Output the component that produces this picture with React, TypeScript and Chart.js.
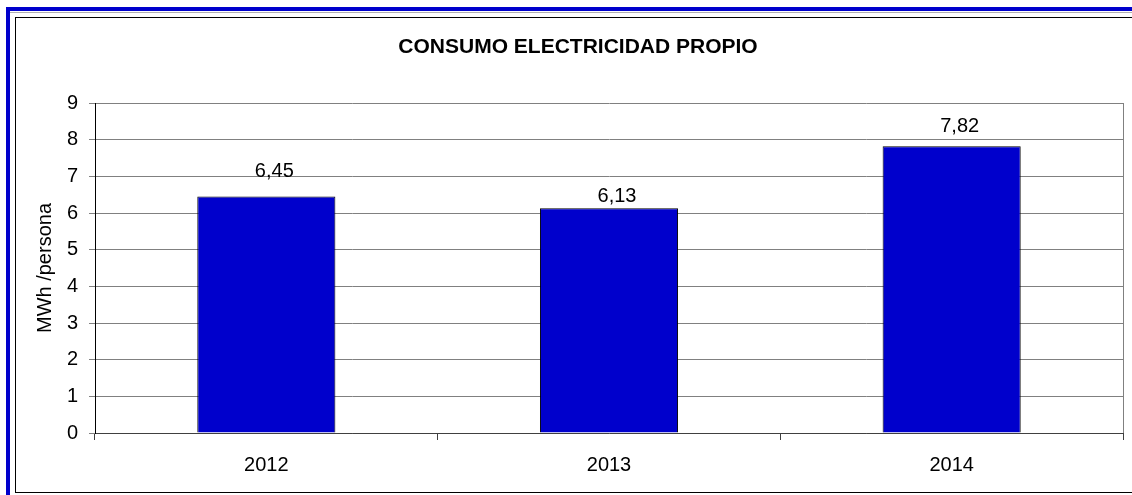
import { useEffect, useRef } from "react";
import { Chart, registerables } from "chart.js";

Chart.register(...registerables);

const categories = ["2012", "2013", "2014"];
const consumo = [6.45, 6.13, 7.82];
const yMin = 0;
const yMax = 9;
const yStep = 1;
const chartTitle = "CONSUMO ELECTRICIDAD PROPIO";
const yAxisTitle = "MWh /persona";

const FONT = '"Liberation Sans", Arial, sans-serif';

const fmt = (v: number) => v.toFixed(2).replace(".", ",");

const valueLabels = {
  id: "valueLabels",
  afterDatasetsDraw(chart: any, _args: any, opts: any) {
    const { ctx } = chart;
    const meta = chart.getDatasetMeta(0);
    ctx.save();
    ctx.font = `20px ${FONT}`;
    ctx.fillStyle = "#000";
    ctx.textAlign = "center";
    ctx.textBaseline = "alphabetic";
    meta.data.forEach((bar: any, i: number) => {
      const v = chart.data.datasets[0].data[i] as number;
      const lift = (opts.lift && opts.lift[i]) ?? 10;
      ctx.fillText(fmt(v), bar.x + (opts.dx ?? 0), bar.y - lift);
    });
    ctx.restore();
  },
};

export default function App() {
  const ref = useRef<HTMLCanvasElement | null>(null);

  useEffect(() => {
    if (!ref.current) return;
    const chart = new Chart(ref.current, {
      type: "bar",
      data: {
        labels: categories,
        datasets: [
          {
            data: consumo,
            backgroundColor: "#0000CC",
            borderColor: "#000000",
            borderWidth: 1,
            categoryPercentage: 1,
            barPercentage: 0.403,
          },
        ],
      },
      options: {
        animation: false,
        responsive: false,
        devicePixelRatio: 1,
        layout: { padding: { left: 33, right: 9, top: 0, bottom: 0 } },
        plugins: {
          legend: { display: false },
          tooltip: { enabled: false },
          title: {
            display: true,
            text: chartTitle,
            color: "#000",
            font: { family: FONT, size: 21, weight: "bold", lineHeight: 1.2 },
            padding: { top: 35, bottom: 42.8 },
          },
          valueLabels: { dx: 8, lift: [19.5, 6, 14] },
        } as any,
        scales: {
          x: {
            offset: true,
            afterFit: (s: any) => {
              s.height = 62;
            },
            grid: {
              offset: true,
              drawOnChartArea: true,
              drawTicks: true,
              tickLength: 7,
              color: (c: any) => (c.tick ? "rgba(0,0,0,0)" : "#808080"),
              tickColor: "#404040",
            },
            border: { display: true, color: "#404040", width: 1 },
            ticks: {
              color: "#000",
              padding: 13,
              font: { family: FONT, size: 20 },
            },
          },
          y: {
            min: yMin,
            max: yMax,
            afterFit: (s: any) => {
              s.width = 62;
            },
            grid: {
              color: "#808080",
              tickColor: "#808080",
              tickLength: 6,
              drawTicks: true,
            },
            border: { display: true, color: "#000", width: 1 },
            ticks: {
              stepSize: yStep,
              color: "#000",
              padding: 11,
              font: { family: FONT, size: 20 },
            },
            title: {
              display: true,
              text: yAxisTitle,
              color: "#000",
              padding: { top: 0, bottom: 0 },
              font: { family: FONT, size: 20 },
            },
          },
        },
      },
      plugins: [valueLabels as any],
    });
    return () => chart.destroy();
  }, []);

  return (
    <div
      style={{
        position: "absolute",
        left: 0,
        top: 0,
        width: 1132,
        height: 495,
        overflow: "hidden",
        background: "#fff",
      }}
    >
      <div
        style={{
          position: "absolute",
          left: 6,
          top: 7,
          width: 2000,
          height: 2000,
          borderLeft: "4px solid #0000CC",
          borderTop: "4px solid #0000CC",
        }}
      />
      <div
        style={{
          position: "absolute",
          left: 10,
          top: 12,
          width: 2000,
          height: 1,
          background: "#b0b0b0",
        }}
      />
      <div
        style={{
          position: "absolute",
          left: 15,
          top: 17,
          width: 2000,
          height: 476,
          boxSizing: "border-box",
          borderLeft: "1px solid #000",
          borderTop: "1px solid #000",
          borderBottom: "1px solid #000",
        }}
      />
      <canvas
        ref={ref}
        width={1132}
        height={495}
        style={{ position: "absolute", left: 0, top: 0, width: 1132, height: 495 }}
      />
    </div>
  );
}
